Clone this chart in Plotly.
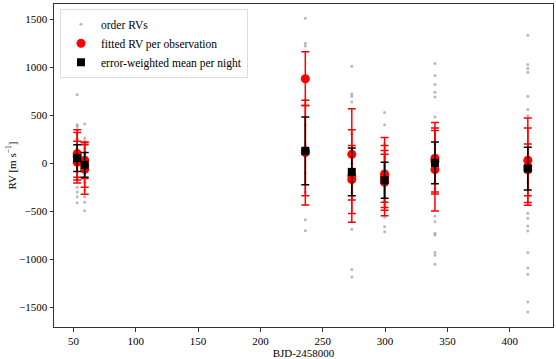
import plotly.graph_objs as go

# nights (BJD - 2458000) and error-weighted nightly means
night_bjd = [53.0, 59.0, 236.0, 273.3, 299.6, 340.0, 414.5]
night_rv = [52, -18, 128, -91, -178, 2, -56]
night_err = [140, 130, 354, 248, 188, 218, 223]

# fitted RV per observation
obs_bjd = [53.0, 53.0, 53.0,
           59.0, 59.0, 59.0,
           236.0, 236.0, 236.0,
           273.3, 273.3, 273.3,
           299.6, 299.6, 299.6, 299.6,
           340.0, 340.0, 340.0,
           414.5, 414.5, 414.5]
obs_rv = [100, 72, 10,
          30, -20, -65,
          880, 130, 110,
          92, -135, -170,
          -112, -140, -165, -199,
          52, -67, 20,
          30, -36, -70]
obs_err = [248, 248, 218,
           190, 232, 258,
           280, 470, 545,
           475, 482, 354,
           296, 408, 297, 293,
           373, 433, 321,
           440, 402, 270]

# order RVs, one list per night
order_n1 = [714, 400, 383, 350, 300, 250, 120, 80, -50, -150, -175, -250, -300, -350, -412]
order_n2 = [408, 261, 230, 150, 100, 0, -100, -200, -280, -350, -408, -496]
order_n3 = [1510, 1250, 1220, 660, 400, 200, -100, -300, -590, -705]
order_n4 = [1010, 722, 697, 638, 300, 0, -300, -690, -1109, -1186]
order_n5 = [529, 401, 200, -100, -400, -565, -663, -715]
order_n6 = [1039, 913, 819, 739, 690, 481, 200, -200, -551, -611, -732, -750, -931, -959, -1053]
order_n7 = [1332, 1028, 986, 948, 697, 558, 495, 200, -200, -523, -575, -656, -708, -931,
            -1092, -1158, -1448, -1552]

order_lists = [order_n1, order_n2, order_n3, order_n4, order_n5, order_n6, order_n7]
order_bjd, order_rv = [], []
for t, vals in zip(night_bjd, order_lists):
    order_bjd += [t] * len(vals)
    order_rv += vals

font = dict(family="Liberation Serif", size=11, color="black")

fig = go.Figure()
fig.add_trace(go.Scatter(
    x=order_bjd, y=order_rv, mode="markers", name="order RVs",
    marker=dict(size=3, color="rgba(128,128,128,0.55)")))
fig.add_trace(go.Scatter(
    x=obs_bjd, y=obs_rv, mode="markers", name="fitted RV per observation",
    marker=dict(size=9, color="red"),
    error_y=dict(type="data", array=obs_err, color="red", thickness=1.5, width=4)))
fig.add_trace(go.Scatter(
    x=night_bjd, y=night_rv, mode="markers", name="error-weighted mean per night",
    marker=dict(size=8, color="black", symbol="square"),
    error_y=dict(type="data", array=night_err, color="black", thickness=1.5, width=4)))

axis = dict(showgrid=False, zeroline=False, showline=True, linecolor="#333", linewidth=1,
            mirror=True, ticks="outside", ticklen=3.5, tickcolor="#333", tickfont=font,
            automargin=False)
fig.update_xaxes(range=[34.4, 434.7], tickvals=[50, 100, 150, 200, 250, 300, 350, 400],
                 title=dict(text="BJD-2458000", font=font, standoff=0), **axis)
fig.update_yaxes(range=[-1708, 1659], tickvals=[-1500, -1000, -500, 0, 500, 1000, 1500],
                 title=dict(text="RV [m s<sup>−1</sup>]", font=font, standoff=0), **axis)

fig.update_layout(
    width=556, height=359, plot_bgcolor="white", paper_bgcolor="white", font=font,
    margin=dict(l=54, r=3, t=4, b=32),
    legend=dict(x=0.012, y=0.985, xanchor="left", yanchor="top", bgcolor="white",
                bordercolor="#ddd", borderwidth=1, font=dict(family="Liberation Serif", size=11.5),
                tracegroupgap=0))

# drop the browser's default body margin so the figure sits at the page corner
fig.write_html("out.html", config={"displayModeBar": False},
               post_script="document.body.style.margin='0';")
